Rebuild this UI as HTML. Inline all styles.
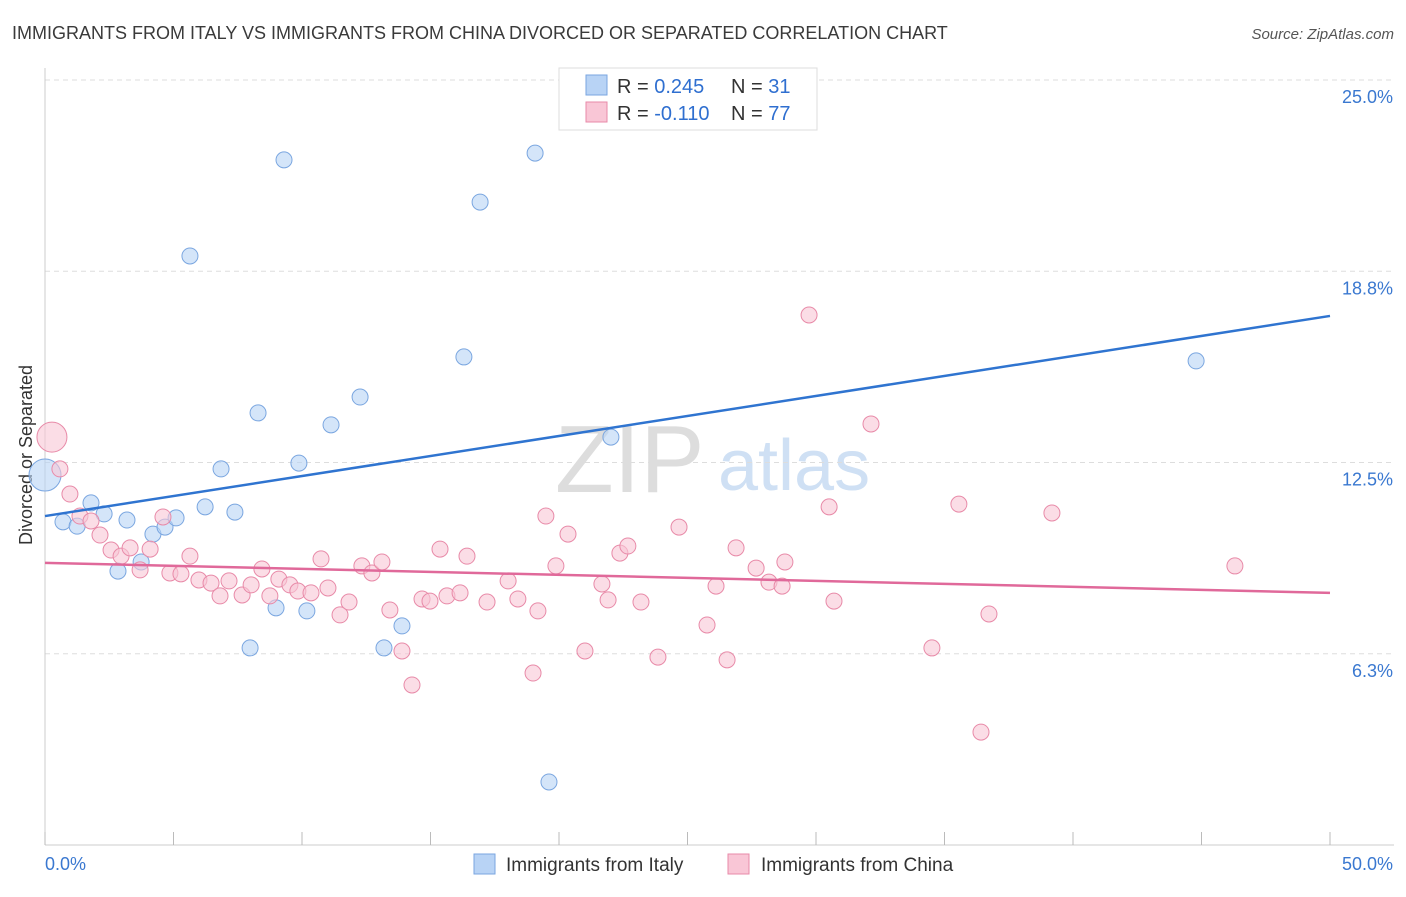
<!DOCTYPE html>
<html><head><meta charset="utf-8"><style>
body{margin:0;background:#fff;font-family:"Liberation Sans",sans-serif;}
svg text{font-family:"Liberation Sans",sans-serif;}
</style></head><body>
<svg id="c" width="1406" height="892" xmlns="http://www.w3.org/2000/svg">
<text x="12" y="39" font-size="18" fill="#3a3a3a">IMMIGRANTS FROM ITALY VS IMMIGRANTS FROM CHINA DIVORCED OR SEPARATED CORRELATION CHART</text>
<text x="1394" y="39" font-size="15" fill="#555" font-style="italic" text-anchor="end">Source: ZipAtlas.com</text>
<text x="32" y="455" font-size="18" fill="#333" text-anchor="middle" transform="rotate(-90 32 455)">Divorced or Separated</text>
<text x="555" y="492" font-size="96" fill="#ddd" font-family="Liberation Serif">ZIP</text>
<text x="718" y="490" font-size="72" fill="#cfe0f4">atlas</text>
<g id="grid"></g><g id="pts"></g><g id="lines"></g>
<g>
<rect x="559" y="68" width="258" height="62" fill="#fff" stroke="#ddd"/>
<rect x="586" y="75" width="21" height="20" fill="#b8d3f5" stroke="#7aa6e0"/>
<rect x="586" y="102" width="21" height="20" fill="#f9c6d6" stroke="#e88aa8"/>
<text x="617" y="93" font-size="20" fill="#333">R = <tspan fill="#2f6fd0">0.245</tspan></text>
<text x="731" y="93" font-size="20" fill="#333">N = <tspan fill="#2f6fd0"> 31</tspan></text>
<text x="617" y="120" font-size="20" fill="#333">R = <tspan fill="#2f6fd0">-0.110</tspan></text>
<text x="731" y="120" font-size="20" fill="#333">N = <tspan fill="#2f6fd0">77</tspan></text>
</g>
<g>
<rect x="474" y="854" width="21" height="20" fill="#b8d3f5" stroke="#7aa6e0"/>
<text x="506" y="871" font-size="19" fill="#333">Immigrants from Italy</text>
<rect x="728" y="854" width="21" height="20" fill="#f9c6d6" stroke="#e88aa8"/>
<text x="761" y="871" font-size="19" fill="#333">Immigrants from China</text>
</g>
<text x="45" y="870" font-size="18" fill="#3a78d0">0.0%</text>
<text x="1393" y="870" font-size="18" fill="#3a78d0" text-anchor="end">50.0%</text>
</svg>
<script>
const italyX=[0,0.70,1.25,1.79,2.30,2.84,3.19,3.74,4.20,4.67,5.10,5.64,6.23,6.85,7.39,7.98,8.29,8.99,9.30,9.88,10.19,11.13,12.26,13.19,13.89,16.30,16.93,19.07,19.61,22.02,44.79];
const italyY=[12.09,10.56,10.42,11.18,10.82,8.95,10.62,9.25,10.16,10.39,10.69,19.25,11.05,12.29,10.88,6.44,14.12,7.75,22.39,12.48,7.65,13.73,14.64,6.44,7.16,15.95,21.01,22.61,2.06,13.33,15.82];
const chinaX=[0.27,0.58,0.97,1.36,1.79,2.14,2.57,2.96,3.31,3.70,4.09,4.59,4.86,5.29,5.64,5.99,6.46,6.81,7.16,7.67,8.02,8.44,8.75,9.10,9.53,9.84,10.35,10.74,11.01,11.48,11.83,12.33,12.72,13.11,13.42,13.89,14.28,14.67,14.98,15.37,15.64,16.15,16.42,17.20,18.02,18.40,18.99,19.18,19.49,19.88,20.35,21.01,21.67,21.91,22.37,22.68,23.19,23.85,24.67,25.76,26.11,26.54,26.89,27.67,28.17,28.68,28.79,29.73,30.51,30.70,32.14,34.51,35.56,36.42,36.73,39.18,46.30];
const chinaY=[13.33,12.29,11.47,10.75,10.59,10.13,9.64,9.44,9.71,8.99,9.67,10.72,8.89,8.86,9.44,8.66,8.56,8.14,8.63,8.17,8.50,9.02,8.14,8.69,8.50,8.30,8.24,9.35,8.40,7.52,7.94,9.12,8.89,9.25,7.68,6.34,5.23,8.04,7.97,9.67,8.14,8.24,9.44,7.94,8.63,8.04,5.62,7.65,10.75,9.12,10.16,6.34,8.53,8.01,9.54,9.77,7.94,6.14,10.39,7.19,8.46,6.05,9.71,9.05,8.59,8.46,9.25,17.32,11.05,7.97,13.76,6.44,11.14,3.69,7.55,10.85,9.12];
const yTicks=[6.25,12.5,18.75,25];
const yTickLabels=["6.3%","12.5%","18.8%","25.0%"];
const italyTrend=[10.75,17.29];
const chinaTrend=[9.22,8.24];
const NS='http://www.w3.org/2000/svg';
const X=v=>45+v/50*1285, Y=v=>845-v/25*765;
function mk(p,t,a){const e=document.createElementNS(NS,t);for(const k in a)e.setAttribute(k,a[k]);p.appendChild(e);return e;}
const g=document.getElementById('grid');
yTicks.forEach((t,i)=>{
 const l=mk(g,'line',{x1:45,x2:1394,y1:Y(t),y2:Y(t),stroke:'#ddd','stroke-dasharray':'5,4'});
 
 
 const tx=mk(g,'text',{x:1393,y:Y(t)+23,'font-size':18,fill:'#3a78d0','text-anchor':'end'});
 tx.textContent=yTickLabels[i];
 
 
});
const ax=mk(g,'line',{x1:45,x2:45,y1:68,y2:845,stroke:'#ccc'});


const bx=mk(g,'line',{x1:45,x2:1394,y1:845,y2:845,stroke:'#ccc'});


for(let i=0;i<=10;i++){const t=mk(g,'line',{x1:X(i*5),x2:X(i*5),y1:832,y2:845,stroke:'#bbb'});
 
 }
const P=document.getElementById('pts');
function pts(xs,ys,fill,stroke,name,big){xs.forEach((x,i)=>{const c=mk(P,'circle',{cx:X(x),cy:Y(ys[i]),r:i===0?big:8,fill:fill,'fill-opacity':0.6,stroke:stroke,'stroke-width':1});
 
 });}
pts(italyX,italyY,'#b8d3f5','#7aa6e0','italy-point',16);
pts(chinaX,chinaY,'#f9c6d6','#e88aa8','china-point',15);
const L=document.getElementById('lines');
const a=mk(L,'line',{x1:X(0),y1:Y(italyTrend[0]),x2:X(50),y2:Y(italyTrend[1]),stroke:'#2f74d0','stroke-width':2.5});


const b=mk(L,'line',{x1:X(0),y1:Y(chinaTrend[0]),x2:X(50),y2:Y(chinaTrend[1]),stroke:'#e0699a','stroke-width':2.5});


</script>
</body></html>
